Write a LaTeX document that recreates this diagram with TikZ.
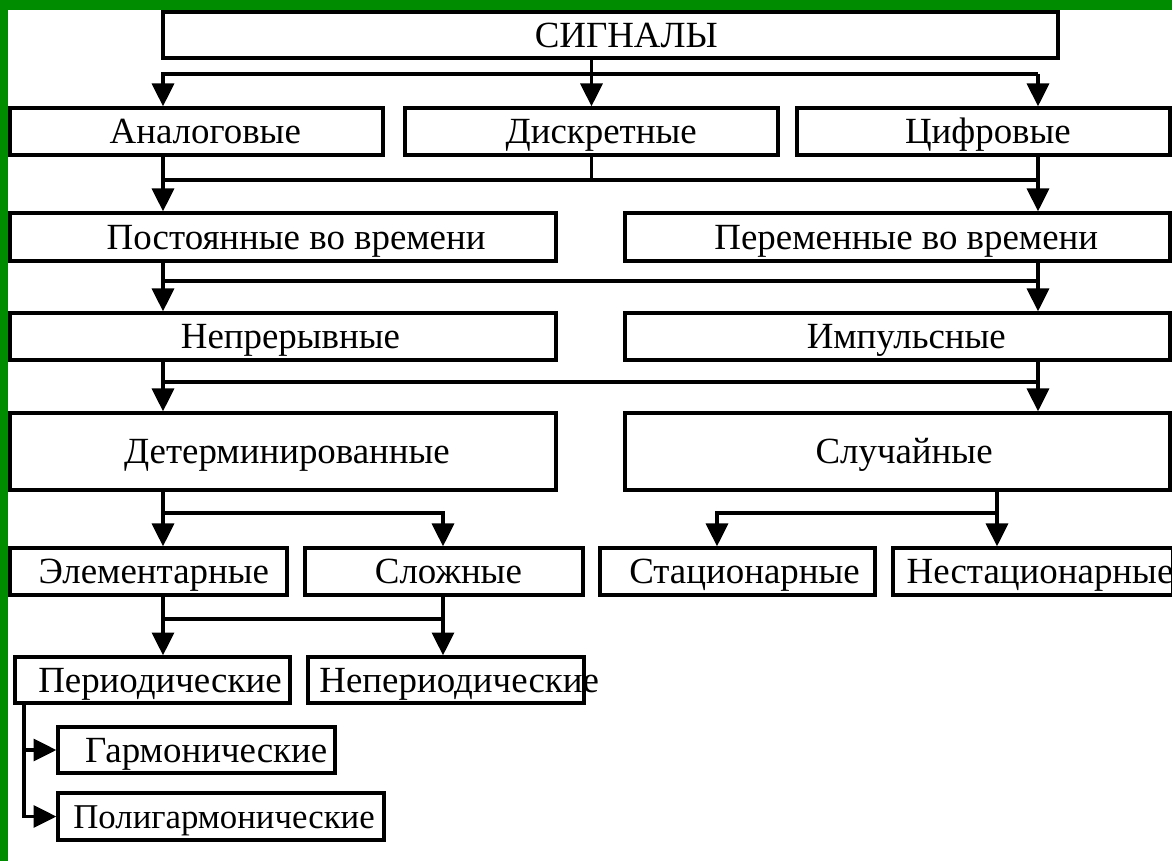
\documentclass[tikz,border=0pt]{standalone}
\usepackage{fontspec}
\setmainfont{Liberation Serif}
\usetikzlibrary{arrows.meta}
\definecolor{slidegreen}{RGB}{0,140,0}
\newcommand\boxtext[2]{\makebox[0pt]{\hspace{#1}#2}}
\tikzset{
  box/.style={draw, line width=1.9pt, inner sep=0pt, text height=13.9pt, text depth=0pt,
    font=\fontsize{21}{25}\selectfont},
  wire/.style={line width=1.9pt},
  arr/.style={line width=1.9pt, -{Triangle[width=12.5pt,length=13pt]}}
}
\begin{document}
\begin{tikzpicture}[x=0.02cm, y=-0.02cm]
\useasboundingbox (0,0) rectangle (1172,861);
\fill[white] (0,0) rectangle (1172,861);
\fill[slidegreen] (0,0) rectangle (1172,10);
\fill[slidegreen] (0,0) rectangle (8,861);

% columns and buses
\coordinate (cL) at (163,0);
\coordinate (cR) at (1038,0);
\coordinate (cM) at (443,0);
\coordinate (cS) at (717,0);
\coordinate (cN) at (997,0);
\coordinate (cP) at (24,0);
\coordinate (b1) at (0,74);
\coordinate (b2) at (0,180);
\coordinate (b3) at (0,281);
\coordinate (b4) at (0,382);
\coordinate (b5) at (0,513);
\coordinate (b6) at (0,619);

% boxes
\node[box, minimum width=17.9cm, minimum height=0.92cm] (sig) at (610.5,35) {\boxtext{18pt}{СИГНАЛЫ}};
\node[box, minimum width=7.46cm, minimum height=0.94cm] (analog) at (196.5,131.5) {\boxtext{10pt}{Аналоговые}};
\node[box, minimum width=7.46cm, minimum height=0.94cm] (discr) at (591.5,131.5) {\boxtext{11pt}{Дискретные}};
\node[box, minimum width=7.46cm, minimum height=0.94cm] (digit) at (983.5,131.5) {\boxtext{5pt}{Цифровые}};
\node[box, minimum width=10.92cm, minimum height=0.96cm] (const) at (283,237) {\boxtext{15pt}{Постоянные во времени}};
\node[box, minimum width=10.9cm, minimum height=0.96cm] (var) at (897.5,237) {\boxtext{10pt}{Переменные во времени}};
\node[box, minimum width=10.92cm, minimum height=0.94cm] (cont) at (283,336.5) {\boxtext{8.5pt}{Непрерывные}};
\node[box, minimum width=10.9cm, minimum height=0.94cm] (pulse) at (897.5,336.5) {\boxtext{10pt}{Импульсные}};
\node[box, minimum width=10.92cm, minimum height=1.54cm] (determ) at (283,451.5) {\boxtext{4.5pt}{Детерминированные}};
\node[box, minimum width=10.9cm, minimum height=1.54cm] (random) at (897.5,451.5) {\boxtext{7.5pt}{Случайные}};
\node[box, minimum width=5.54cm, minimum height=0.94cm] (elem) at (148.5,571.5) {\boxtext{6pt}{Элементарные}};
\node[box, minimum width=5.56cm, minimum height=0.94cm] (compl) at (444,571.5) {\boxtext{5pt}{Сложные}};
\node[box, minimum width=5.5cm, minimum height=0.94cm] (stat) at (737.5,571.5) {\boxtext{8pt}{Стационарные}};
\node[box, minimum width=5.6cm, minimum height=0.94cm] (nonstat) at (1033,571.5) {\boxtext{8pt}{Нестационарные}};
\node[box, minimum width=5.5cm, minimum height=0.92cm] (period) at (152.5,680) {\boxtext{8.5pt}{Периодические}};
\node[box, minimum width=5.52cm, minimum height=0.92cm] (nonper) at (446,680) {\boxtext{15pt}{Непериодические}};
\node[box, minimum width=5.54cm, minimum height=0.92cm] (harm) at (196.5,750) {\boxtext{11pt}{Гармонические}};
\node[box, minimum width=6.52cm, minimum height=0.94cm, font=\fontsize{19.8}{24}\selectfont] (polyharm) at (221,816.5) {\boxtext{3.5pt}{Полигармонические}};

% level 1
\draw[arr] (sig.south -| discr.north) -- (discr.north);
\draw[arr] (b1 -| cR) -- (digit.north -| cR);
\draw[arr] (b1 -| cR) -- (b1 -| cL) -- (analog.north -| cL);

% level 2
\draw[wire] (discr.south) -- (b2 -| discr.south);
\draw[wire] (b2 -| cL) -- (b2 -| cR);
\draw[arr] (analog.south -| cL) -- (const.north -| cL);
\draw[arr] (digit.south -| cR) -- (var.north -| cR);

% level 3
\draw[wire] (b3 -| cL) -- (b3 -| cR);
\draw[arr] (const.south -| cL) -- (cont.north -| cL);
\draw[arr] (var.south -| cR) -- (pulse.north -| cR);

% level 4
\draw[wire] (b4 -| cL) -- (b4 -| cR);
\draw[arr] (cont.south -| cL) -- (determ.north -| cL);
\draw[arr] (pulse.south -| cR) -- (random.north -| cR);

% level 5
\draw[arr] (determ.south -| cL) -- (elem.north -| cL);
\draw[arr] (b5 -| cL) -- (b5 -| cM) -- (compl.north -| cM);
\draw[arr] (random.south -| cN) -- (nonstat.north -| cN);
\draw[arr] (b5 -| cN) -- (b5 -| cS) -- (stat.north -| cS);

% level 6
\draw[arr] (elem.south -| cL) -- (period.north -| cL);
\draw[arr] (compl.south -| cM) -- (nonper.north -| cM);
\draw[wire] (b6 -| cL) -- (b6 -| cM);

% periodic branch
\draw[arr] (period.south -| cP) |- (polyharm.west);
\draw[arr] (harm.west -| cP) -- (harm.west);
\end{tikzpicture}
\end{document}
